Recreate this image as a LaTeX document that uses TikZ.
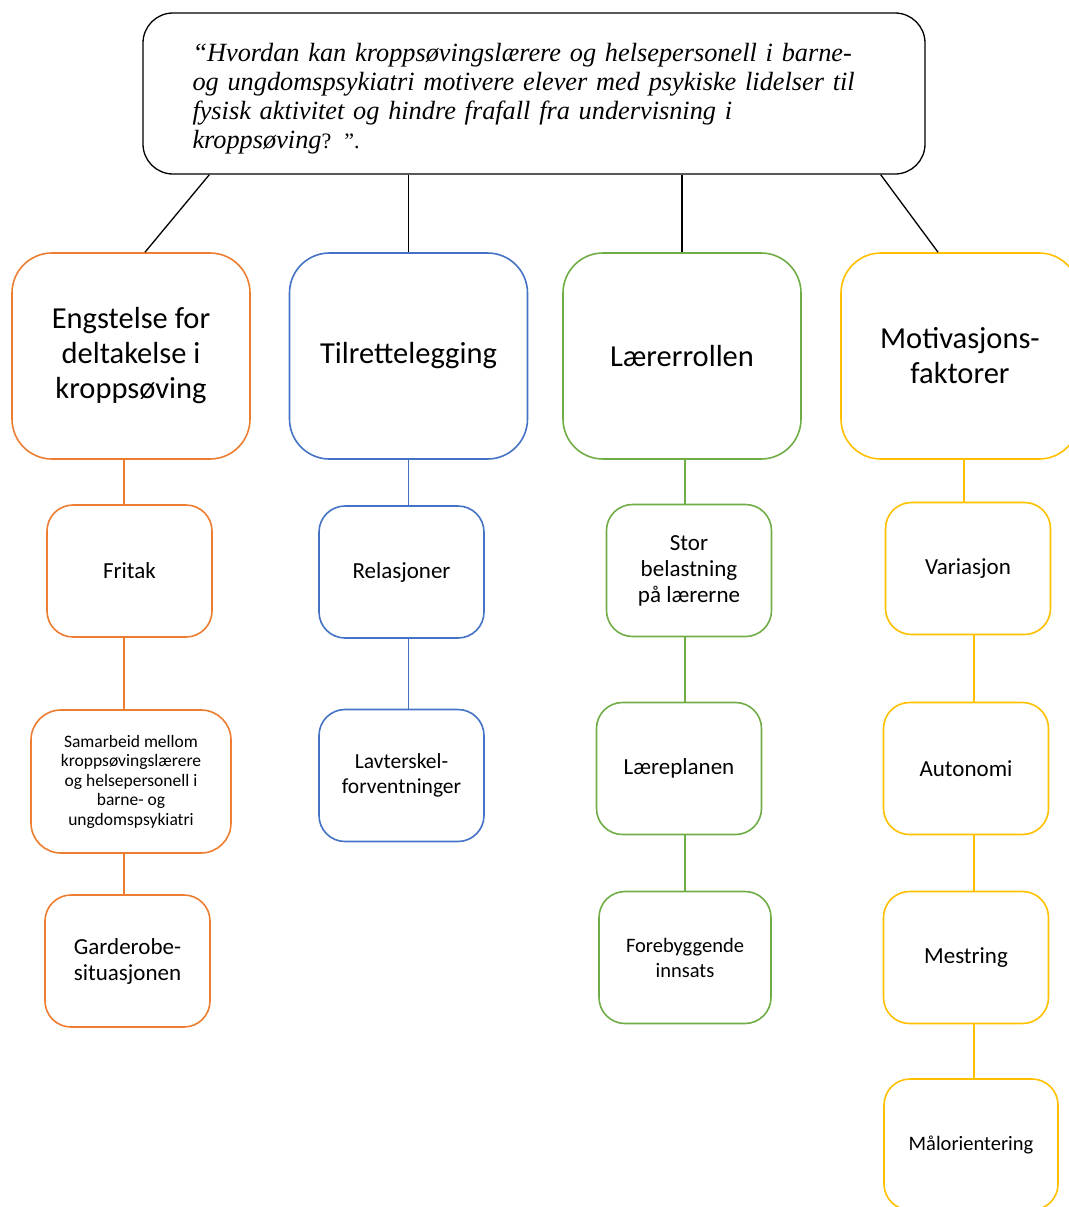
\documentclass[tikz,border=0pt]{standalone}
\usepackage{fontspec}
\setmainfont{Liberation Serif}
\newfontfamily\boxfont{Carlito}
\usetikzlibrary{calc}

\definecolor{orng}{RGB}{237,125,49}
\definecolor{blu}{RGB}{68,114,196}
\definecolor{grn}{RGB}{112,173,71}
\definecolor{ylw}{RGB}{255,192,0}

\begin{document}
\begin{tikzpicture}[x=1pt,y=-1pt,
  bigbox/.style={draw, rounded corners=40pt, line width=1.6pt, minimum width=238pt, minimum height=206pt, align=center, font=\boxfont\fontsize{30.5}{35}\selectfont},
  smallbox/.style={draw, rounded corners=26pt, line width=1.6pt, minimum width=165pt, minimum height=132pt, align=center, font=\boxfont\fontsize{23}{26}\selectfont},
  link/.style={line width=1.6pt}]
\useasboundingbox (0,0) rectangle (1068,1207);

% the question
\node[draw, rounded corners=30pt, line width=1.3pt, minimum width=782pt, minimum height=161pt] (top) at (534,93.5) {};
\node[text width=683pt, align=left, font=\itshape\fontsize{26.3}{29}\selectfont] (quest) at ($(top.center)+(0,5)$)
  {“Hvordan kan kroppsøvingslærere og helsepersonell i barne-\\
   og ungdomspsykiatri motivere elever med psykiske lidelser til\\
   fysisk aktivitet og hindre frafall fra undervisning i\\
   kroppsøving\textup{\fontsize{22}{29}\selectfont? ”.}};

% themes
\node[bigbox, orng] (eng) at (131,356) {\color{black}Engstelse for\\\color{black}deltakelse i\\\color{black}kroppsøving};
\node[bigbox, blu] (tilr) at (408.5,356) {\color{black}Tilrettelegging};
\node[bigbox, grn] (laer) at (682,356) {\color{black}Lærerrollen};
\node[bigbox, ylw] (mot) at (960,356) {\color{black}Motivasjons-\\\color{black}faktorer};

\draw[line width=1.3pt] ($(top.south west)+(67,0)$) -- ($(eng.north)+(14,0)$);
\draw[line width=1.3pt] (top.south -| tilr.north) -- (tilr.north);
\draw[line width=1.3pt] (top.south -| laer.north) -- (laer.north);
\draw[line width=1.3pt] ($(top.south east)+(-45,0)$) -- ($(mot.north)+(-22,0)$);

% orange column
\node[smallbox, orng, text=black] (fritak) at (129.5,571) {Fritak};
\node[smallbox, orng, text=black, minimum width=200pt, minimum height=143pt, rounded corners=30pt,
  font=\boxfont\fontsize{17.5}{19.5}\selectfont] (samarb) at (131,781.5)
  {Samarbeid mellom\\kroppsøvingslærere\\og helsepersonell i\\barne- og\\ungdomspsykiatri};
\node[smallbox, orng, text=black] (garde) at (127.5,961) {Garderobe-\\situasjonen};

\draw[link, orng] (eng.south -| 124,0) -- (fritak.north -| 124,0);
\draw[link, orng] (fritak.south -| 124,0) -- (samarb.north -| 124,0);
\draw[link, orng] (samarb.south -| 124,0) -- (garde.north -| 124,0);

% blue column
\node[smallbox, blu, text=black] (relas) at (401.5,572) {Relasjoner};
\node[smallbox, blu, text=black, font=\boxfont\fontsize{21.5}{25}\selectfont] (lavt) at (401.5,775.5) {Lavterskel-\\forventninger};

\draw[link, blu] (tilr.south) -- (tilr.south |- relas.north);
\draw[link, blu] (relas.south -| tilr.south) -- (tilr.south |- lavt.north);

% green column
\node[smallbox, grn, text=black] (stor) at (689,570.5) {Stor\\belastning\\på lærerne};
\node[smallbox, grn, text=black] (plan) at (679,768.5) {Læreplanen};
\node[smallbox, grn, text=black, minimum width=172pt, font=\boxfont\fontsize{20.5}{25}\selectfont] (foreb) at (685,957.5) {Forebyggende\\innsats};

\draw[link, grn] (laer.south -| foreb.north) -- (stor.north -| foreb.north);
\draw[link, grn] (stor.south -| foreb.north) -- (plan.north -| foreb.north);
\draw[link, grn] (plan.south -| foreb.north) -- (foreb.north);

% yellow column
\node[smallbox, ylw, text=black] (vari) at (968,568.5) {Variasjon};
\node[smallbox, ylw, text=black] (auto) at (966,768.5) {Autonomi};
\node[smallbox, ylw, text=black] (mest) at (966,957.5) {Mestring};
\node[smallbox, ylw, text=black, minimum width=174pt, minimum height=131pt, font=\boxfont\fontsize{20.5}{25}\selectfont] (maal) at (971,1144.5) {Målorientering};

\draw[link, ylw] (mot.south -| 964,0) -- (vari.north -| 964,0);
\draw[link, ylw] (vari.south -| 974,0) -- (auto.north -| 974,0);
\draw[link, ylw] (auto.south -| 974,0) -- (mest.north -| 974,0);
\draw[link, ylw] (mest.south -| 974,0) -- (maal.north -| 974,0);
\end{tikzpicture}
\end{document}
